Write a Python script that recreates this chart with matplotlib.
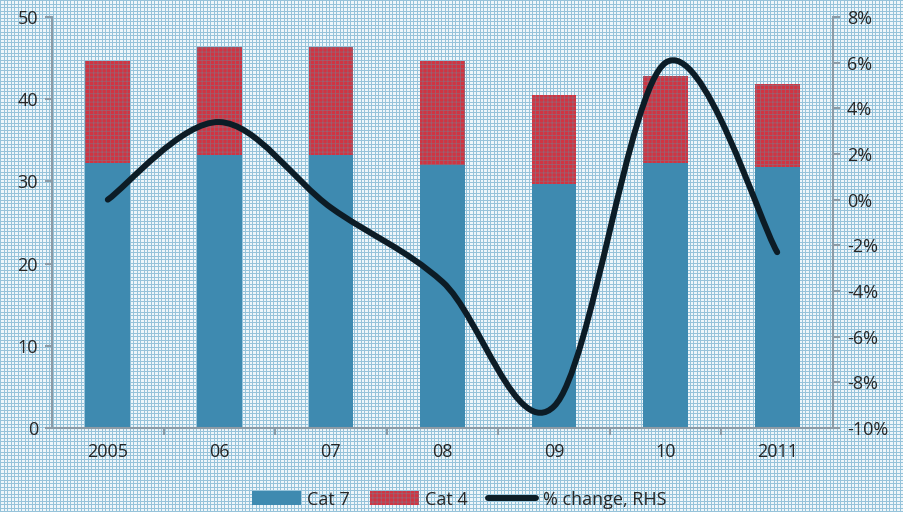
import numpy as np
import matplotlib.pyplot as plt
from matplotlib.path import Path
from matplotlib.patches import PathPatch
from matplotlib.lines import Line2D
from matplotlib.patches import Patch

years = ["2005", "06", "07", "08", "09", "10", "2011"]
cat7 = [32.2, 33.2, 33.2, 32.0, 29.7, 32.2, 31.8]
cat4 = [12.4, 13.1, 13.1, 12.6, 10.8, 10.6, 10.1]
pct_change = [0.0, 3.4, -0.35, -3.6, -9.05, 6.0, -2.3]

teal = "#3e8ab0"
red = "#d13442"
txt = "#262626"
axcol = "#8c9ba6"
linecol = "#0c1c26"

plt.rcParams["font.family"] = ["Open Sans", "DejaVu Sans"]
plt.rcParams["hatch.linewidth"] = 0.6

fig = plt.figure(figsize=(9.04, 5.12), dpi=100)

# fine blue grid paper behind everything
bg = fig.add_axes([0, 0, 1, 1], zorder=-10)
h, w = 512, 904
paper = np.ones((h, w, 3)) * np.array([238, 246, 250]) / 255
rows = np.isin(np.arange(h) % 7, [0, 4])
cols = np.isin(np.arange(w) % 7, [0, 4])
paper[rows, :, :] = np.array([150, 195, 218]) / 255
paper[:, cols, :] = np.array([150, 195, 218]) / 255
bg.imshow(paper, aspect="auto", interpolation="nearest")
bg.axis("off")

ax = fig.add_axes([52 / 904, 84 / 512, 781 / 904, 411 / 512])
ax.patch.set_visible(False)
x = np.arange(len(years))
ax.bar(x, cat7, width=0.4, color=teal, linewidth=0, zorder=2)
ax.bar(x, cat4, width=0.4, bottom=cat7, color=red, edgecolor="#9a6070",
       hatch="++++", linewidth=0, zorder=2)

ax.set_xlim(-0.5, len(years) - 0.5)
ax.set_ylim(0, 50)
ax.set_yticks(range(0, 51, 10))
ax.set_xticks(x)
ax.set_xticklabels(years)
ax.set_xticks(np.arange(0.5, len(years) - 1, 1), minor=True)
ax.tick_params(axis="x", which="major", length=0, pad=11, labelsize=13, colors=txt)
ax.tick_params(axis="x", which="minor", length=5, direction="out", color=axcol, width=1.5)
ax.tick_params(axis="y", length=5, width=1.5, color=axcol, labelsize=13,
               labelcolor=txt, pad=5)
for s in ["top", "right"]:
    ax.spines[s].set_visible(False)
for s in ["left", "bottom"]:
    ax.spines[s].set_color(axcol)
    ax.spines[s].set_linewidth(1.5)

ax2 = ax.twinx()
ax2.set_ylim(-10, 8)
ax2.set_yticks(range(-10, 9, 2))
ax2.set_yticklabels([f"{v}%" for v in range(-10, 9, 2)])
ax2.tick_params(axis="y", length=5, width=1.5, color=axcol, labelsize=13,
                labelcolor=txt, pad=5)
for s in ["top", "left", "bottom"]:
    ax2.spines[s].set_visible(False)
ax2.spines["right"].set_color(axcol)
ax2.spines["right"].set_linewidth(1.5)

# smoothed line through the yearly points (cubic Bezier segments)
pts = np.column_stack([x, pct_change]).astype(float)
ext = np.vstack([pts[0], pts, pts[-1]])
verts = [tuple(pts[0])]
codes = [Path.MOVETO]
for i in range(len(pts) - 1):
    p0, p1, p2, p3 = ext[i], ext[i + 1], ext[i + 2], ext[i + 3]
    c1 = p1 + (p2 - p0) / 6
    c2 = p2 - (p3 - p1) / 6
    verts += [tuple(c1), tuple(c2), tuple(p2)]
    codes += [Path.CURVE4] * 3
ax2.add_patch(PathPatch(Path(verts, codes), facecolor="none",
                        edgecolor=linecol, linewidth=4.3, capstyle="round",
                        zorder=3))

handles = [Patch(facecolor=teal, linewidth=0),
           Patch(facecolor=red, edgecolor="#9a6070", hatch="++++", linewidth=0),
           Line2D([], [], color=linecol, linewidth=4.3, solid_capstyle="round")]
fig.legend(handles, ["Cat 7", "Cat 4", "% change, RHS"], loc="lower center",
           bbox_to_anchor=(0.508, -0.025), ncol=3, frameon=False, fontsize=13,
           handlelength=2.7, handleheight=0.8, columnspacing=1.1,
           handletextpad=0.35, labelcolor=txt)

fig.savefig("out.png", dpi=100)
